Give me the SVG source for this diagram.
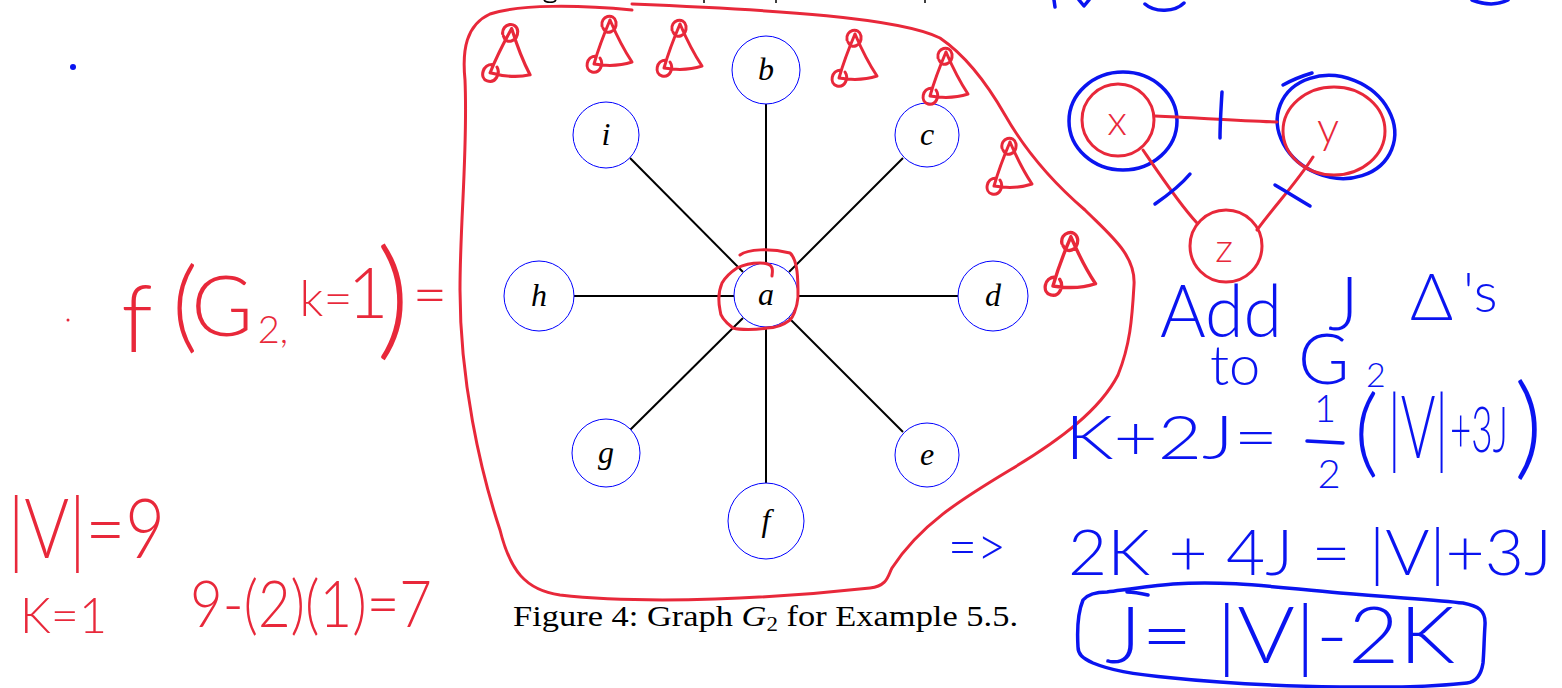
<svg xmlns="http://www.w3.org/2000/svg" width="1562" height="688" viewBox="0 0 1562 688">
<style>
.node{fill:#fff;stroke:#0000ff;stroke-width:1}
.edge{stroke:#000;stroke-width:2;fill:none}
.lbl{font-family:"Liberation Serif",serif;font-style:italic;font-size:32px;fill:#000;text-anchor:middle}
.cap{font-family:"Liberation Serif",serif;font-size:30px;fill:#000}
.rs{fill:none;stroke:#e8283a;stroke-width:3;stroke-linecap:round;stroke-linejoin:round}
.bs{fill:none;stroke:#0a14f0;stroke-width:3.5;stroke-linecap:round;stroke-linejoin:round}
.ks{fill:none;stroke:#000;stroke-width:1.5}
.rt{font-family:Lato,"Open Sans",sans-serif;font-weight:300;fill:#e8283a}
.bt{font-family:Lato,"Open Sans",sans-serif;font-weight:300;fill:#0a14f0}
</style>
<defs>
<g id="bell">
<path class="rs" d="M16,12 C14,2 28,-2 30,8 C31,18 20,22 17,14 M24,6 C18,20 12,36 8,50 M24,6 C30,20 38,36 46,48 C34,52 20,52 8,50 M10,42 C0,42 -2,56 6,58 C14,60 18,50 14,44"/>
</g>
</defs>
<rect width="1562" height="688" fill="#fff"/>

<!-- cut-off text at top edge -->
<path class="ks" d="M544,0 C546,3 554,3 556,0 M704,0 L704,3 M776,0 L776,3 M925,0 L925,3"/>

<!-- red enclosing blob -->
<path class="rs" d="M632,10 C580,5 520,4 490,14 C466,25 462,50 465,80 C468,150 460,220 460,290 C460,380 480,470 500,530 C510,570 525,590 560,595 C650,605 780,598 870,588 C888,586 888,575 892,568 C920,525 960,500 1010,470 C1060,440 1100,410 1118,375 C1130,345 1132,320 1134,285 C1136,255 1110,235 1085,210 C1050,180 1025,150 1005,115 C985,80 965,55 940,38 C900,18 780,10 632,4"/>

<g id="connectors">
<line class="edge" x1="766" y1="104" x2="766" y2="263"/>
<line class="edge" x1="630" y1="158" x2="743" y2="272"/>
<line class="edge" x1="903" y1="158" x2="789" y2="272"/>
<line class="edge" x1="574" y1="296" x2="734" y2="296"/>
<line class="edge" x1="798" y1="296" x2="958" y2="296"/>
<line class="edge" x1="630" y1="430" x2="743" y2="318"/>
<line class="edge" x1="903" y1="432" x2="789" y2="318"/>
<line class="edge" x1="766" y1="327" x2="766" y2="483"/>
</g>

<g id="node-b"><circle class="node" cx="766" cy="70" r="34"/><text class="lbl" x="766" y="80">b</text></g>
<g id="node-i"><circle class="node" cx="606" cy="135" r="33"/><text class="lbl" x="606" y="145">i</text></g>
<g id="node-c"><circle class="node" cx="927" cy="135" r="32"/><text class="lbl" x="927" y="145">c</text></g>
<g id="node-h"><circle class="node" cx="539" cy="296" r="35"/><text class="lbl" x="539" y="306">h</text></g>
<g id="node-a"><circle class="node" cx="766" cy="295" r="32"/><text class="lbl" x="766" y="305">a</text></g>
<g id="node-d"><circle class="node" cx="993" cy="296" r="35"/><text class="lbl" x="993" y="306">d</text></g>
<g id="node-g"><circle class="node" cx="606" cy="453" r="34"/><text class="lbl" x="606" y="463">g</text></g>
<g id="node-e"><circle class="node" cx="927" cy="455" r="32"/><text class="lbl" x="927" y="465">e</text></g>
<g id="node-f"><circle class="node" cx="766" cy="521" r="38"/><text class="lbl" x="766" y="531">f</text></g>

<text class="cap" x="513" y="626" textLength="505" lengthAdjust="spacingAndGlyphs">Figure 4: Graph <tspan font-style="italic">G</tspan><tspan font-size="20" dy="5">2</tspan><tspan dy="-5"> for Example 5.5.</tspan></text>

<!-- red circle around a -->
<path class="rs" d="M740,255 C748,249 770,248 790,253 C798,260 798,280 798,297 C797,310 792,318 790,320 C782,326 775,328 767,328 C755,330 740,330 733,328 C725,322 720,316 720,310 C718,300 719,290 722,283 C726,276 731,272 737,268 C745,264 752,263 760,263 C766,263 771,265 772,268 C773,271 772,274 772,276"/>

<!-- bells -->
<use href="#bell" transform="translate(484,22) rotate(6 24 30) scale(1.05)"/>
<use href="#bell" transform="translate(586,14)"/>
<use href="#bell" transform="translate(656,18)"/>
<use href="#bell" transform="translate(831,28)"/>
<use href="#bell" transform="translate(922,46)"/>
<use href="#bell" transform="translate(986,136)"/>
<use href="#bell" transform="translate(1044,230) scale(1.12)"/>

<!-- triangle graph x y z -->
<g id="node-x">
<ellipse class="bs" cx="1123" cy="121" rx="54" ry="49"/>
<circle class="rs" cx="1118" cy="120" r="36"/>
<text class="rt" x="1117" y="135" font-size="42" text-anchor="middle">x</text>
</g>
<g id="node-y">
<ellipse class="bs" cx="1336" cy="127" rx="60" ry="50" transform="rotate(22 1336 127)"/>
<path class="bs" d="M1283,85 C1292,80 1302,76 1312,73"/>
<ellipse class="rs" cx="1334" cy="131" rx="51" ry="44"/>
<text class="rt" x="1328" y="143" font-size="44" text-anchor="middle">y</text>
</g>
<g id="node-z">
<circle class="rs" cx="1226" cy="246" r="36"/>
<text class="rt" x="1224" y="262" font-size="40" text-anchor="middle">z</text>
</g>
<g id="tri-edges">
<path class="rs" d="M1155,116 C1200,118 1240,121 1277,122"/>
<path class="rs" d="M1143,150 C1160,175 1180,205 1197,223"/>
<path class="rs" d="M1313,157 C1295,185 1275,205 1257,230"/>
<path class="bs" d="M1222,92 C1221,108 1220,124 1220,138"/>
<path class="bs" d="M1155,204 C1168,195 1180,186 1190,174"/>
<path class="bs" d="M1275,185 C1287,192 1298,199 1310,206"/>
</g>

<!-- dots -->
<circle cx="73" cy="67" r="3" fill="#0a14f0"/>
<circle cx="68" cy="320" r="1.5" fill="#e8283a"/>

<!-- red handwriting: f(G2,k=1)= -->
<text class="rt" x="137" y="352" font-size="92" text-anchor="middle">f</text>
<text class="rt" x="185" y="340" font-size="100" text-anchor="middle">(</text>
<text class="rt" x="222" y="336" font-size="84" text-anchor="middle">G</text>
<text class="rt" x="273" y="343" font-size="38" text-anchor="middle">2,</text>
<text class="rt" x="326" y="316" font-size="50" text-anchor="middle">k=</text>
<text class="rt" x="368" y="318" font-size="70" text-anchor="middle">1</text>
<text class="rt" x="393" y="343" font-size="130" text-anchor="middle">)</text>
<text class="rt" x="430" y="315" font-size="60" text-anchor="middle">=</text>

<text class="rt" x="8" y="558" font-size="82" textLength="157" lengthAdjust="spacingAndGlyphs">|V|=9</text>
<text class="rt" x="20" y="633" font-size="50" textLength="87" lengthAdjust="spacingAndGlyphs">K=1</text>
<text class="rt" x="190" y="627" font-size="66" textLength="242" lengthAdjust="spacingAndGlyphs">9-(2)(1)=7</text>

<!-- blue handwriting -->
<text class="bt" x="1160" y="337" font-size="72" textLength="122" lengthAdjust="spacingAndGlyphs">Add</text>
<text class="bt" x="1328" y="330" font-size="74">J</text>
<text class="bt" x="1410" y="320" font-size="66">Δ</text>
<text class="bt" x="1463" y="312" font-size="56">'s</text>
<text class="bt" x="1210" y="385" font-size="56">to</text>
<text class="bt" x="1298" y="384" font-size="70">G</text>
<text class="bt" x="1366" y="387" font-size="34">2</text>

<text class="bt" x="1065" y="459" font-size="62" textLength="213" lengthAdjust="spacingAndGlyphs">K+2J=</text>
<text class="bt" x="1325" y="422" font-size="38" text-anchor="middle">1</text>
<path class="bs" d="M1307,441 L1343,443"/>
<text class="bt" x="1329" y="488" font-size="40" text-anchor="middle">2</text>
<text class="bt" x="1354" y="465" font-size="96">(</text>
<text class="bt" x="1388" y="458" font-size="86" textLength="60" lengthAdjust="spacingAndGlyphs">|V|</text>
<text class="bt" x="1450" y="452" font-size="64" textLength="58" lengthAdjust="spacingAndGlyphs">+3J</text>
<text class="bt" x="1514" y="465" font-size="112">)</text>

<text class="bt" x="948" y="566" font-size="56" textLength="58" lengthAdjust="spacingAndGlyphs">=&gt;</text>
<text class="bt" x="1068" y="575" font-size="64" textLength="484" lengthAdjust="spacingAndGlyphs">2K + 4J = |V|+3J</text>

<path class="bs" d="M1148,595 C1135,592 1130,592 1127,592 M1173,584 C1230,580 1280,588 1340,593 C1400,598 1440,600 1463,603 C1478,606 1486,610 1485,625 C1484,640 1484,652 1483,663 C1481,676 1475,682 1467,683 C1420,688 1380,687 1340,687 C1280,686 1220,683 1173,678 C1130,674 1110,670 1093,663 C1082,658 1078,654 1078,647 C1077,630 1078,612 1083,600 C1088,594 1098,592 1107,592 C1130,589 1150,586 1173,584"/>
<text class="bt" x="1105" y="663" font-size="78" textLength="350" lengthAdjust="spacingAndGlyphs">J= |V|-2K</text>

<!-- cut-off strokes at top edge -->
<path class="bs" d="M1054,0 L1055,7 M1079,0 L1084,6 L1089,0 M1145,4 C1155,13 1175,12 1184,3 M1472,0 C1485,5 1498,5 1508,0"/>
</svg>
